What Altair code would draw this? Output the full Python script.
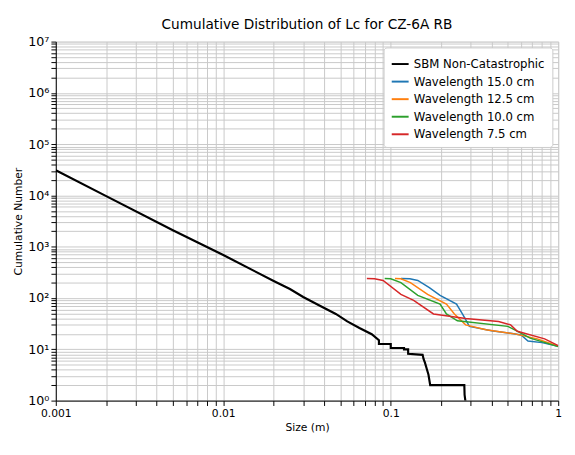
import altair as alt
import pandas as pd

sbm_x = [0.001, 0.002, 0.005, 0.01, 0.02, 0.025, 0.03, 0.038, 0.047, 0.055, 0.065, 0.077, 0.085, 0.085, 0.1, 0.1, 0.12, 0.12, 0.127, 0.127, 0.155, 0.157, 0.16, 0.165, 0.168, 0.172, 0.275, 0.276, 0.28]
sbm_y = [31000, 9700, 2100, 690, 215, 150, 105, 70, 49, 35, 26, 19.7, 15, 12.7, 12.7, 10.6, 10.6, 10, 10, 8.2, 7.8, 6.5, 5.5, 3.9, 3.2, 2, 2, 1.3, 0.9]
b_x = [0.115, 0.13, 0.145, 0.17, 0.197, 0.247, 0.27, 0.295, 0.4, 0.52, 0.6, 0.66, 0.8, 1.0]
b_y = [240, 238, 220, 160, 113, 76, 47, 28, 23, 20.5, 19, 14.5, 13.5, 11.5]
o_x = [0.106, 0.115, 0.131, 0.166, 0.215, 0.24, 0.28, 0.37, 0.55, 0.75, 1.0]
o_y = [240, 238, 200, 118, 76, 49, 30, 24, 20, 16, 11.5]
g_x = [0.092, 0.1, 0.115, 0.145, 0.197, 0.215, 0.25, 0.5, 0.55, 0.68, 1.0]
g_y = [240, 238, 200, 113, 76, 49, 36, 28, 24, 16.5, 11.3]
r_x = [0.072, 0.08, 0.09, 0.115, 0.137, 0.18, 0.28, 0.44, 0.52, 0.57, 0.83, 1.0]
r_y = [240, 238, 220, 118, 90, 49, 40, 35, 30, 22.5, 16, 11.8]

names = ["SBM Non-Catastrophic", "Wavelength 15.0 cm", "Wavelength 12.5 cm", "Wavelength 10.0 cm", "Wavelength 7.5 cm"]
colors = ["black", "#1f77b4", "#ff7f0e", "#2ca02c", "#d62728"]
rows = []
for n, xs, ys in zip(names, [sbm_x, b_x, o_x, g_x, r_x], [sbm_y, b_y, o_y, g_y, r_y]):
    for i, (x, y) in enumerate(zip(xs, ys)):
        rows.append({"series": n, "x": x, "y": y, "i": i})
df = pd.DataFrame(rows)

xvals = [m * 10**e for e in range(-3, 0) for m in range(1, 10)] + [1]
yvals = [m * 10**e for e in range(0, 7) for m in range(1, 10)] + [10**7]
sup = "⁰¹²³⁴⁵⁶⁷"
ylab = " : ".join([f"datum.value == {10**e} ? '10{sup[e]}'" for e in range(8)]) + " : ''"
xlab = "datum.value == 0.001 ? '0.001' : datum.value == 0.01 ? '0.01' : datum.value == 0.1 ? '0.1' : datum.value == 1 ? '1' : ''"

chart = alt.Chart(df).mark_line(clip=True).encode(
    x=alt.X("x:Q", scale=alt.Scale(type="log", domain=[0.001, 1], nice=False),
            axis=alt.Axis(values=xvals, labelExpr=xlab, title="Size (m)", gridColor="#c8c8c8",
                          labelFlush=False, labelOverlap=False, labelColor="black", tickColor="black",
                          domainColor="black", labelFontSize=11, titleFontSize=11, titleFontWeight="normal")),
    y=alt.Y("y:Q", scale=alt.Scale(type="log", domain=[1, 1e7], nice=False),
            axis=alt.Axis(values=yvals, labelExpr=ylab, title="Cumulative Number", gridColor="#c8c8c8",
                          labelOverlap=False, labelColor="black", tickColor="black", domainColor="black",
                          labelFontSize=13, titleFontSize=11, titleFontWeight="normal")),
    color=alt.Color("series:N", scale=alt.Scale(domain=names, range=colors), sort=names,
                    legend=alt.Legend(title=None, orient="top-right", offset=6, fillColor="white", strokeColor="#ccc",
                                      padding=7, labelFontSize=12, symbolType="stroke", symbolStrokeWidth=2,
                                      symbolSize=300, labelLimit=300, cornerRadius=3)),
    strokeWidth=alt.condition("datum.series == 'SBM Non-Catastrophic'", alt.value(2.2), alt.value(1.5)),
    order="i:Q",
).properties(
    width=515, height=368,
    title=alt.Title("Cumulative Distribution of Lc for CZ-6A RB", fontSize=14, fontWeight="normal"),
).configure_view(stroke="black").configure(font="DejaVu Sans")

chart.save("out.html", embed_options={"renderer": "svg", "actions": False})
